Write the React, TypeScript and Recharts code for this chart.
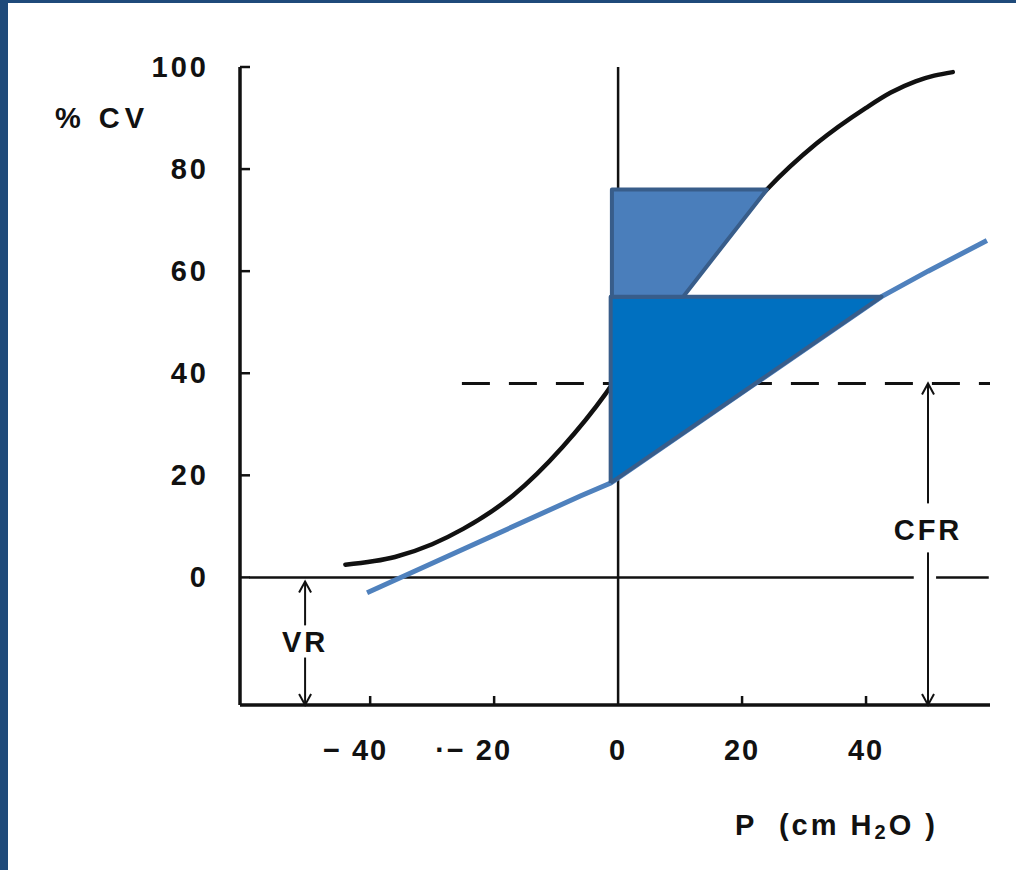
import {
  Area,
  ComposedChart,
  Line,
  ReferenceDot,
  ReferenceLine,
  XAxis,
  YAxis,
} from "recharts";

// axis ticks
const pressureTicks = [-40, -20, 0, 20, 40];
const volumeTicks = [0, 20, 40, 60, 80, 100];

// pressure-volume curve: P (cm H2O) vs %CV
const curveP = [-44, -36, -30, -25, -17, -9, -2, 0, 5, 10, 16, 24, 32, 40, 44, 48, 51, 54];
const curveV = [2.5, 4, 6.5, 9.5, 16, 25.5, 36, 39.5, 47, 55, 64.5, 76, 85, 92, 95, 97.2, 98.3, 99];

// blue straight-ish line under the curve
const lineP = [-40.5, -6, -1.2, 42.5, 50, 59.5];
const lineV = [-3, 16, 18.5, 55, 60, 66];

// upper shaded trapezoid (low / high edge at each P)
const upperP = [-1, 10.5, 24];
const upperLow = [55, 55, 76];
const upperHigh = [76, 76, 76];

// lower shaded triangle
const lowerP = [-1.2, 42.5];
const lowerLow = [18.5, 55];
const lowerHigh = [55, 55];

// guide lines
const cfrLevel = 38;
const dashStartP = -25.2;
const zeroLineSegments = [
  [-59.5, 47.7],
  [51.3, 59.8],
];
const cfrP = 50;
const cfrSegments = [
  [cfrLevel, 14.5],
  [-25, 4.9],
];
const cfrLabelV = 9.2;
const vrP = -50.5;
const vrSegments = [
  [-0.8, -9.4],
  [-25, -15.7],
];
const vrLabelV = -12.7;

const P_MIN = -61;
const P_MAX = 60;
const V_MIN = -25;
const V_MAX = 100;

const FONT = '"Liberation Sans", Arial, Helvetica, sans-serif';
const INK = "#111";

const curveData = curveP.map((P, i) => ({ P, V: curveV[i] }));
const blueData = lineP.map((P, i) => ({ P, V: lineV[i] }));

const bandData = (ps: number[], lows: number[], highs: number[]) =>
  ps.map((P, i) => ({ P, range: [lows[i], highs[i]] }));

// closed outline: along the low edge, back along the high edge
const ring = (ps: number[], lows: number[], highs: number[]) => {
  const pts = ps.map((P, i) => ({ P, V: lows[i] }));
  for (let i = ps.length - 1; i >= 0; i--) pts.push({ P: ps[i], V: highs[i] });
  pts.push({ P: ps[0], V: lows[0] });
  return pts;
};

const upperBand = bandData(upperP, upperLow, upperHigh);
const upperRing = ring(upperP, upperLow, upperHigh);
const lowerBand = bandData(lowerP, lowerLow, lowerHigh);
const lowerRing = ring(lowerP, lowerLow, lowerHigh);

// line with an open arrowhead at its first point
const ArrowLine = (props: any) => {
  const { x1, y1, x2, y2 } = props;
  const dir = y2 > y1 ? 1 : -1;
  return (
    <g>
      <line x1={x1} y1={y1} x2={x2} y2={y2} stroke={INK} strokeWidth={2} />
      <polyline
        points={`${x1 - 6},${y1 + dir * 11} ${x1},${y1} ${x1 + 6},${y1 + dir * 11}`}
        fill="none"
        stroke={INK}
        strokeWidth={2}
      />
    </g>
  );
};

const plainLine = (props: any) => (
  <line
    x1={props.x1}
    y1={props.y1}
    x2={props.x2}
    y2={props.y2}
    stroke={INK}
    strokeWidth={2.5}
  />
);

const textLabel = (text: string) => (props: any) => (
  <text
    x={props.cx}
    y={props.cy}
    textAnchor="middle"
    dominantBaseline="central"
    fontFamily={FONT}
    fontWeight="bold"
    fontSize={29}
    letterSpacing={3}
    fill={INK}
  >
    {text}
  </text>
);

const PressureTick = (props: any) => {
  const { x, y, payload } = props;
  const v = payload.value as number;
  const neg = v < 0;
  const text = neg ? `${v === -20 ? "·" : ""}− ${Math.abs(v)}` : `${v}`;
  return (
    <g>
      {v !== 0 && (
        <line x1={x} y1={y} x2={x} y2={y - 9} stroke={INK} strokeWidth={2.5} />
      )}
      <text
        x={neg ? x + 18 : x}
        y={y + 45}
        textAnchor={neg ? "end" : "middle"}
        dominantBaseline="central"
        fontFamily={FONT}
        fontWeight="bold"
        fontSize={29}
        letterSpacing={2}
        fill={INK}
      >
        {text}
      </text>
    </g>
  );
};

const VolumeTick = (props: any) => {
  const { x, y, payload } = props;
  return (
    <g>
      <line x1={x} y1={y} x2={x + 10} y2={y} stroke={INK} strokeWidth={2.5} />
      <text
        x={x - 31}
        y={y}
        textAnchor="end"
        dominantBaseline="central"
        fontFamily={FONT}
        fontWeight="bold"
        fontSize={29}
        letterSpacing={3}
        fill={INK}
      >
        {payload.value}
      </text>
    </g>
  );
};

export default function App() {
  return (
    <div
      style={{
        position: "absolute",
        left: 0,
        top: 0,
        width: 1016,
        height: 870,
        background: "#fff",
        overflow: "hidden",
      }}
    >
      <div style={{ position: "absolute", left: 0, top: 0, width: 8, height: 870, background: "#1f4a7a" }} />
      <div style={{ position: "absolute", left: 0, top: 0, width: 1016, height: 3, background: "#1f4a7a" }} />
      <div style={{ position: "absolute", left: 0, top: 0 }}>
        <ComposedChart
          width={1016}
          height={870}
          margin={{ top: 67, right: 26, bottom: 105, left: 0 }}
        >
          <XAxis
            type="number"
            dataKey="P"
            domain={[P_MIN, P_MAX]}
            ticks={pressureTicks}
            allowDataOverflow
            height={60}
            tickSize={0}
            tickMargin={0}
            tickLine={false}
            axisLine={{ stroke: INK, strokeWidth: 3.5 }}
            tick={<PressureTick />}
            label={{
              content: ({ viewBox }: any) => (
                <text
                  x={viewBox.x + 495}
                  y={viewBox.y + 120}
                  dominantBaseline="central"
                  fontFamily={FONT}
                  fontWeight="bold"
                  fontSize={29}
                  letterSpacing={3}
                  fill={INK}
                  style={{ whiteSpace: "pre" }}
                >
                  {"P  (cm H"}
                  <tspan dy={7} fontSize={20}>
                    2
                  </tspan>
                  <tspan dy={-7}>{"O )"}</tspan>
                </text>
              ),
            }}
          />
          <YAxis
            type="number"
            domain={[V_MIN, V_MAX]}
            ticks={volumeTicks}
            allowDataOverflow
            width={240}
            tickSize={0}
            tickMargin={0}
            tickLine={false}
            axisLine={{ stroke: INK, strokeWidth: 3.5 }}
            tick={<VolumeTick />}
            label={{
              content: ({ viewBox }: any) => (
                <text
                  x={viewBox.x + 55}
                  y={viewBox.y + 51}
                  dominantBaseline="central"
                  fontFamily={FONT}
                  fontWeight="bold"
                  fontSize={29}
                  letterSpacing={5}
                  fill={INK}
                >
                  % CV
                </text>
              ),
            }}
          />

          {/* zero volume line, broken where the CFR arrow passes */}
          {zeroLineSegments.map(([a, b], i) => (
            <ReferenceLine
              key={`zero-${i}`}
              segment={[
                { x: a, y: 0 },
                { x: b, y: 0 },
              ]}
              shape={plainLine}
              zIndex={100}
            />
          ))}
          <ReferenceLine
            x={0}
            stroke={INK}
            strokeWidth={2.5}
            zIndex={100}
          />
          <ReferenceLine
            segment={[
              { x: dashStartP, y: cfrLevel },
              { x: P_MAX, y: cfrLevel },
            ]}
            stroke={INK}
            strokeWidth={3}
            strokeDasharray="28 19"
            zIndex={100}
          />
          {cfrSegments.map(([a, b], i) => (
            <ReferenceLine
              key={`cfr-${i}`}
              segment={[
                { x: cfrP, y: a },
                { x: cfrP, y: b },
              ]}
              shape={ArrowLine}
              zIndex={100}
            />
          ))}
          {vrSegments.map(([a, b], i) => (
            <ReferenceLine
              key={`vr-${i}`}
              segment={[
                { x: vrP, y: a },
                { x: vrP, y: b },
              ]}
              shape={ArrowLine}
              zIndex={100}
            />
          ))}
          <ReferenceDot x={cfrP} y={cfrLabelV} shape={textLabel("CFR")} zIndex={100} />
          <ReferenceDot x={vrP} y={vrLabelV} shape={textLabel("VR")} zIndex={100} />

          <Line
            data={curveData}
            dataKey="V"
            type="monotone"
            stroke={INK}
            strokeWidth={4.5}
            strokeLinecap="round"
            dot={false}
            activeDot={false}
            isAnimationActive={false}
            zIndex={200}
          />
          <Line
            data={blueData}
            dataKey="V"
            type="linear"
            stroke="#4f81bd"
            strokeWidth={5}
            dot={false}
            activeDot={false}
            isAnimationActive={false}
            zIndex={300}
          />
          <Area
            data={lowerBand}
            dataKey="range"
            type="linear"
            fill="#0070c0"
            fillOpacity={1}
            stroke="none"
            activeDot={false}
            isAnimationActive={false}
            zIndex={400}
          />
          <Line
            data={lowerRing}
            dataKey="V"
            type="linear"
            stroke="#385d8a"
            strokeWidth={4}
            strokeLinejoin="round"
            dot={false}
            activeDot={false}
            isAnimationActive={false}
            zIndex={410}
          />
          <Area
            data={upperBand}
            dataKey="range"
            type="linear"
            fill="#4a7ebb"
            fillOpacity={1}
            stroke="none"
            activeDot={false}
            isAnimationActive={false}
            zIndex={420}
          />
          <Line
            data={upperRing}
            dataKey="V"
            type="linear"
            stroke="#385d8a"
            strokeWidth={4}
            strokeLinejoin="round"
            dot={false}
            activeDot={false}
            isAnimationActive={false}
            zIndex={430}
          />
        </ComposedChart>
      </div>
    </div>
  );
}
